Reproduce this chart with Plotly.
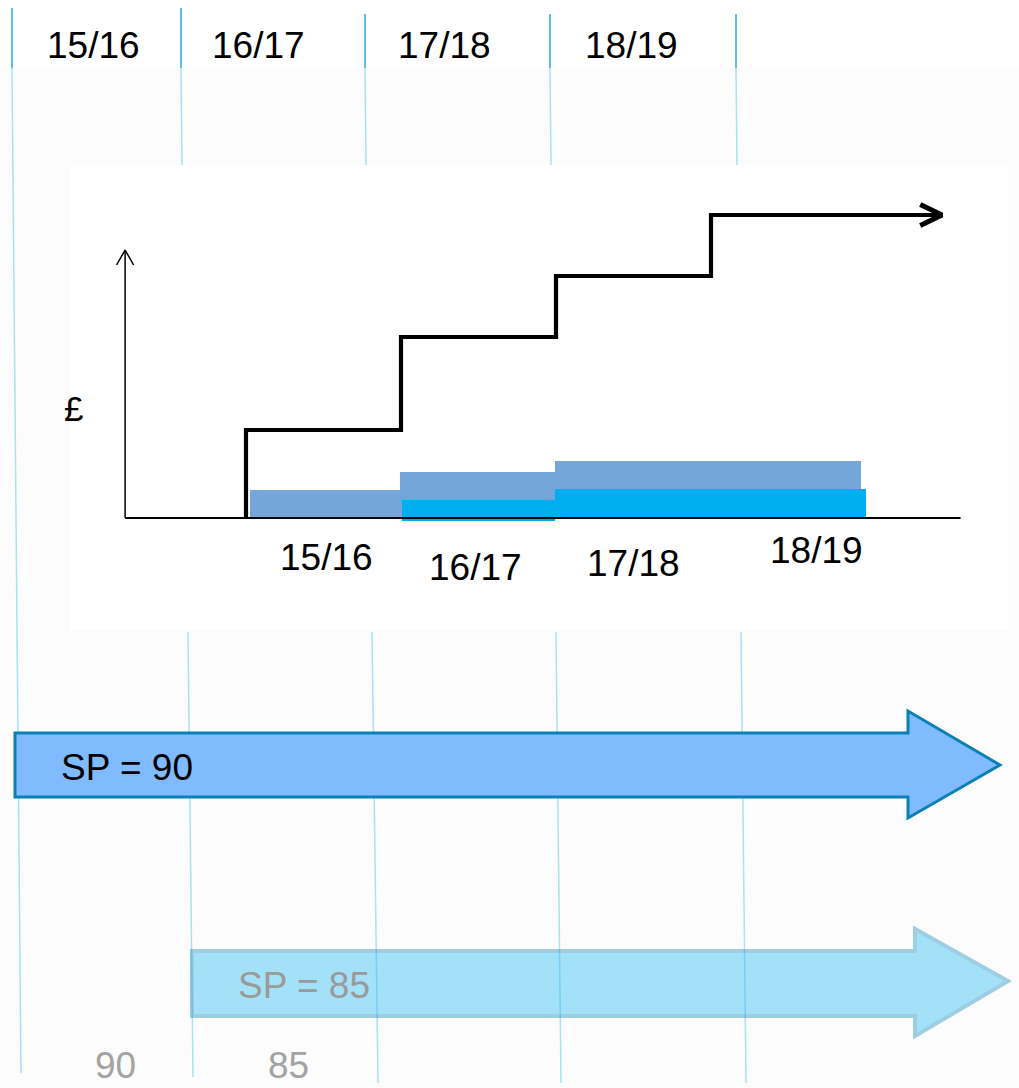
import plotly.graph_objects as go

# ---------------- data ----------------
years = ["15/16", "16/17", "17/18", "18/19"]

# inner chart (arbitrary £ units, x in financial-year index)
step_x = [0, 1, 2, 3, 4.47]
step_y = [0, 8.8, 18.1, 24.2, 30.3]

blue_x = [0.52, 1.5, 2.5, 3.48]
blue_vals = [2.8, 4.6, 5.7, 5.7]

cyan_x = [1.5, 2.5, 3.5]
cyan_vals = [1.8, 2.9, 2.9]
cyan_base = [-0.3, 0.0, 0.0]

sp_values = [90, 85]
sp_labels = ["SP = %d" % v for v in sp_values]

# ---------------- layout helpers (pixel space) ----------------
W, H = 1019, 1088
FONT = "Liberation Sans, Arial, sans-serif"

fig = go.Figure()

# inner chart traces on x2/y2
fig.add_trace(go.Bar(x=blue_x, y=blue_vals, width=[0.99, 1.01, 1.01, 0.97],
                     marker=dict(color="#75A6D9", line=dict(width=0)),
                     xaxis="x2", yaxis="y2", showlegend=False, hoverinfo="skip"))
fig.add_trace(go.Bar(x=cyan_x, y=[v - b for v, b in zip(cyan_vals, cyan_base)], base=cyan_base,
                     width=[0.99, 1.01, 1.0],
                     marker=dict(color="#00AEEF", line=dict(width=0)),
                     xaxis="x2", yaxis="y2", showlegend=False, hoverinfo="skip"))

# axes lines of inner chart
x_axis_start, x_axis_end = -0.78, 4.61
y_axis_top = 26.8
fig.add_trace(go.Scatter(x=[x_axis_start, x_axis_end], y=[0, 0], mode="lines",
                         line=dict(color="black", width=2), xaxis="x2", yaxis="y2",
                         showlegend=False, hoverinfo="skip"))
fig.add_trace(go.Scatter(x=[x_axis_start, x_axis_start, None,
                            x_axis_start - 0.055, x_axis_start, x_axis_start + 0.055],
                         y=[0, y_axis_top, None, y_axis_top - 1.5, y_axis_top, y_axis_top - 1.5],
                         mode="lines", line=dict(color="black", width=1.5),
                         xaxis="x2", yaxis="y2", showlegend=False, hoverinfo="skip"))

# step line
fig.add_trace(go.Scatter(x=step_x, y=step_y, mode="lines", line_shape="vh",
                         line=dict(color="black", width=4.2), xaxis="x2", yaxis="y2",
                         showlegend=False, hoverinfo="skip"))
tx, ty = step_x[-1] + 0.02, step_y[-1]
fig.add_trace(go.Scatter(x=[tx - 0.14, tx, tx - 0.14], y=[ty + 1.05, ty, ty - 1.05],
                         mode="lines", line=dict(color="black", width=5),
                         xaxis="x2", yaxis="y2", showlegend=False, hoverinfo="skip"))

# ---------------- shapes (pixel coordinates on x/y) ----------------
shapes = []
# top white strip and inner white panel
shapes.append(dict(type="rect", x0=0, x1=W, y0=0, y1=68, fillcolor="white",
                   line=dict(width=0), layer="below"))
shapes.append(dict(type="rect", x0=70, x1=1008, y0=165, y1=630, fillcolor="white",
                   line=dict(width=0), layer="below"))

LIGHT = "#A9E1F6"
DARK = "#2AA8E0"
# left long line
shapes.append(dict(type="line", x0=12, y0=68, x1=21, y1=1073,
                   line=dict(color=LIGHT, width=1.5), layer="below"))
# top header dark segments
top_lines = [(12, 8), (181, 8), (365, 14), (550, 14), (736, 14)]
for x, y0 in top_lines:
    shapes.append(dict(type="line", x0=x, y0=y0, x1=x, y1=68,
                       line=dict(color=DARK, width=1.5), layer="below"))
for x, _ in top_lines[1:]:
    shapes.append(dict(type="line", x0=x, y0=68, x1=x + 1, y1=165,
                       line=dict(color=LIGHT, width=1.5), layer="below"))
# lower lines
lower = [(188, 193, 1077), (372, 378, 1083), (556, 561, 1083), (741, 746, 1083)]
for xa, xb, yb in lower:
    shapes.append(dict(type="line", x0=xa, y0=632, x1=xb, y1=yb,
                       line=dict(color=LIGHT, width=1.5), layer="below"))

# arrow 1 (SP = 90)
shapes.append(dict(type="path",
                   path="M15,733 L908,733 L908,711 L1000,765 L908,818 L908,797 L15,797 Z",
                   fillcolor="#80BBFF", line=dict(color="#0A80B4", width=3), layer="below"))
# arrow 2 (SP = 85) semi transparent
shapes.append(dict(type="path",
                   path="M192,951 L915,951 L915,929 L1008,981 L915,1036 L915,1016 L192,1016 Z",
                   fillcolor="#15B8F2", opacity=0.38,
                   line=dict(color="#0A86BB", width=4), layer="below"))

# ---------------- annotations ----------------
ann = []
header_pos = [93, 258, 444, 631]
for lab, x in zip(years, header_pos):
    ann.append(dict(x=x, y=45, xref="x", yref="y", text=lab, showarrow=False,
                    font=dict(family=FONT, size=37, color="black")))

inner_lab_pos = [(0.52, -3.9), (1.48, -4.9), (2.5, -4.5), (3.68, -3.2)]
for lab, (x, y) in zip(years, inner_lab_pos):
    ann.append(dict(x=x, y=y, xref="x2", yref="y2", text=lab, showarrow=False,
                    font=dict(family=FONT, size=37, color="black")))

ann.append(dict(x=73, y=408, xref="x", yref="y", text="£", showarrow=False,
                font=dict(family=FONT, size=35, color="black")))

ann.append(dict(x=59, y=767, xref="x", yref="y", text=sp_labels[0], showarrow=False,
                xanchor="left", font=dict(family=FONT, size=37, color="black")))
ann.append(dict(x=236, y=985, xref="x", yref="y", text=sp_labels[1], showarrow=False,
                xanchor="left", font=dict(family=FONT, size=37, color="#9A9A9A")))

for v, x in zip(sp_values, [115, 288]):
    ann.append(dict(x=x, y=1065, xref="x", yref="y", text=str(v), showarrow=False,
                    font=dict(family=FONT, size=37, color="#A3A3A3")))

fig.update_layout(
    width=W, height=H, margin=dict(l=0, r=0, t=0, b=0),
    paper_bgcolor="#FCFCFC", plot_bgcolor="rgba(0,0,0,0)",
    barmode="overlay", bargap=0,
    xaxis=dict(range=[0, W], domain=[0, 1], visible=False, fixedrange=True),
    yaxis=dict(range=[H, 0], domain=[0, 1], visible=False, fixedrange=True),
    xaxis2=dict(range=[(70 - 246) / 155, (1008 - 246) / 155], domain=[70 / W, 1008 / W],
                visible=False, anchor="y2"),
    yaxis2=dict(range=[-11.2, 35.3], domain=[1 - 630 / H, 1 - 165 / H],
                visible=False, anchor="x2"),
    shapes=shapes, annotations=ann,
)

fig.write_html("out.html")
